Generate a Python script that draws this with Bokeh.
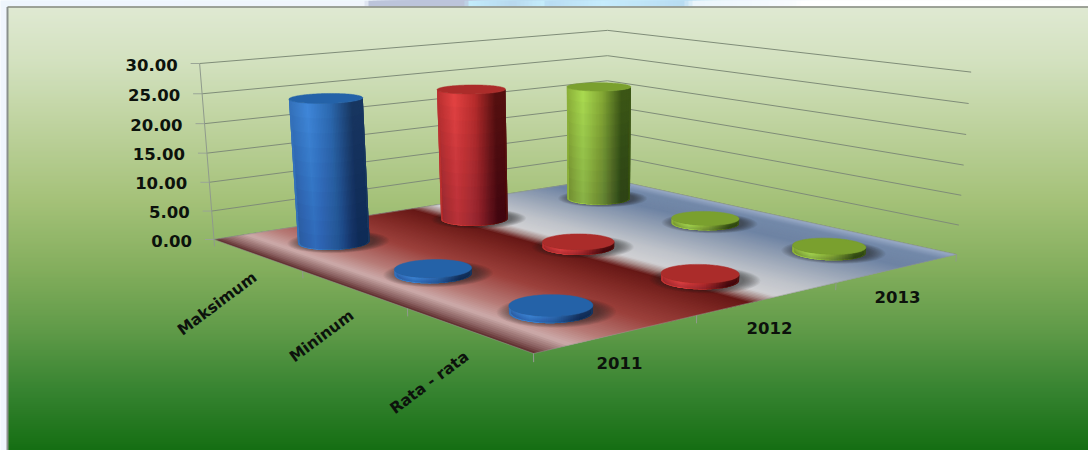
import numpy as np
from bokeh.plotting import figure
from bokeh.core.properties import value
from bokeh.embed import file_html
from bokeh.resources import INLINE

# Chart data
years = ["2011", "2012", "2013"]
measures = ["Maksimum", "Mininum", "Rata - rata"]
maksimum = [24.5, 23.5, 21.5]
mininum = [0.9, 0.9, 0.9]
rata_rata = [1.0, 1.0, 1.0]
value_ticks = [0, 5, 10, 15, 20, 25, 30]
value_labels = ["0.00", "5.00", "10.00", "15.00", "20.00", "25.00", "30.00"]

# Series palette: (top face, rim left, rim highlight, rim middle, rim right)
series_colors = {
    "2011": ("#2462a8", "#3470b8", "#3f86d8", "#2c69b0", "#183660"),
    "2012": ("#ab2c2a", "#b83030", "#e24242", "#b62c2c", "#541010"),
    "2013": ("#7aa02e", "#8aae38", "#a9da50", "#84a835", "#3c5616"),
}

FONT = "DejaVu Sans"
TEXT = "#0c120c"
GRID = "#7f8c78"


def hex_rgb(c):
    return np.array([int(c[i:i + 2], 16) for i in (1, 3, 5)], dtype=float)


def ramp(t, stops):
    """Colour at t along a list of (position, hex) stops."""
    pos = [s[0] for s in stops]
    rgb = np.array([hex_rgb(s[1]) for s in stops])
    out = [np.interp(t, pos, rgb[:, i]) for i in range(3)]
    return "#%02x%02x%02x" % tuple(int(round(v)) for v in out)


# --- 3D camera: u runs across measures, v across years, z is the value ---
floor_src = np.array([[0, 0], [1, 0], [1, 1], [0, 1]], dtype=float)
floor_dst = np.array([[213.5, 239], [533, 353], [956, 254], [606.5, 178]], dtype=float)
rows, rhs = [], []
for (a, b), (x, y) in zip(floor_src, floor_dst):
    rows.append([a, b, 1, 0, 0, 0, -x * a, -x * b])
    rhs.append(x)
    rows.append([0, 0, 0, a, b, 1, -y * a, -y * b])
    rhs.append(y)
h = np.linalg.solve(np.array(rows), np.array(rhs))
H = np.array([[h[0], h[1], h[2]], [h[3], h[4], h[5]], [h[6], h[7], 1.0]])

wall_points = [((0, 0), (199.5, 63.3)), ((0, 1), (606.5, 29.3)), ((1, 1), (971, 72))]
rows, rhs = [], []
for (a, b), (x, y) in wall_points:
    n = H @ np.array([a, b, 1.0])
    rows.append([30, 0, -x * 30])
    rhs.append(x * n[2] - n[0])
    rows.append([0, 30, -y * 30])
    rhs.append(y * n[2] - n[1])
zcol = np.linalg.lstsq(np.array(rows), np.array(rhs), rcond=None)[0]


def project(u, v, z=0.0):
    u, v, z = np.asarray(u, float), np.asarray(v, float), np.asarray(z, float)
    n0 = H[0, 0] * u + H[0, 1] * v + H[0, 2] + zcol[0] * z
    n1 = H[1, 0] * u + H[1, 1] * v + H[1, 2] + zcol[1] * z
    d = H[2, 0] * u + H[2, 1] * v + H[2, 2] + zcol[2] * z
    return n0 / d, n1 / d


p = figure(width=1088, height=450, x_range=(0, 1088), y_range=(450, 0),
           output_backend="svg", toolbar_location=None, min_border=0,
           x_axis_type=None, y_axis_type=None)
p.grid.visible = False
p.outline_line_color = None
p.background_fill_color = "#f0f5fd"
p.border_fill_color = "#f0f5fd"

# --- page strip above the panel ---
strip_x = np.arange(0, 1088, 4)
strip_stops = [(0, "#eef5fd"), (362, "#f0f5fc"), (368, "#bcc4da"), (462, "#bcc4da"),
               (468, "#c2ecfb"), (510, "#b8d8ee"), (540, "#c4ecfb"), (545, "#b8dcf2"),
               (600, "#c6ecfc"), (680, "#b8dcf2"), (692, "#eaf5fc"), (790, "#f8fbfe"),
               (800, "#ffffff"), (1088, "#ffffff")]
strip_c = [ramp(x, strip_stops) for x in strip_x]
p.quad(left=strip_x, right=1088, top=0, bottom=7, fill_color=strip_c, line_color=None)

# --- panel gradient: each band runs to the bottom so later ones paint over without seams ---
panel_y = np.arange(6, 450, 2)
panel_stops = [(6, "#dfe9d2"), (60, "#d3e1bf"), (130, "#bcd19b"), (200, "#a4c178"),
               (270, "#82ad5c"), (330, "#5f9a48"), (390, "#368330"), (450, "#146e12")]
panel_c = [ramp(y, panel_stops) for y in panel_y]
p.quad(left=8, right=1088, top=panel_y, bottom=450, fill_color=panel_c, line_color=None)
p.segment(x0=[7], y0=[6.5], x1=[7], y1=[450], line_color="#8a908c", line_width=2)
p.segment(x0=[7], y0=[6.5], x1=[1088], y1=[6.5], line_color="#85897f", line_width=1.5)

# --- wall gridlines ---
for z in value_ticks:
    xs, ys = project([0, 0, 1], [0, 1, 1], [z, z, z])
    p.line(xs, ys, line_color=GRID, line_width=1)
    x0, y0 = project(0, 0, z)
    p.segment(x0=[x0 - 9], y0=[y0], x1=[x0], y1=[y0], line_color="#9aa596", line_width=1)

ax_x, ax_y = project([0, 0], [0, 0], [0, 30])
p.line(ax_x, ax_y, line_color="#8f9a8c", line_width=1)

# --- floor: bands run along the measure axis and overlap the next few behind them ---
floor_stops = [(0.0, "#5c2c2c"), (0.025, "#8a6060"), (0.07, "#ccabaa"), (0.13, "#b77c78"),
               (0.25, "#9c413c"), (0.38, "#7c2622"), (0.455, "#661816"), (0.49, "#a88e8c"),
               (0.52, "#d0d0d3"), (0.60, "#bfc3ca"), (0.72, "#98a4b6"), (0.85, "#6e83a3"),
               (0.95, "#7389a9"), (1.0, "#9aabc8")]
n_bands = 140
fx, fy, fc = [], [], []
for i in range(n_bands):
    v0 = i / n_bands
    v1 = min(1.0, (i + 3) / n_bands)
    xs, ys = project([0, 1, 1, 0], [v0, v0, v1, v1])
    fx.append(list(xs))
    fy.append(list(ys))
    fc.append(ramp(v0 + 0.5 / n_bands, floor_stops))
p.patches(fx, fy, fill_color=fc, line_color=None)
ex, ey = project([0, 1, 1, 0], [0, 0, 1, 1])
p.line(list(ex) + [ex[0]], list(ey) + [ey[0]], line_color="#8f9a8c", line_width=0.8, line_alpha=0.7)

# --- axis ticks on the floor edges ---
for t in [0, 1 / 3, 2 / 3, 1]:
    xs, ys = project([t, t], [0, 0], [0, -1.2])
    p.line(xs, ys, line_color="#8f9a8c", line_width=1)
    xs, ys = project([1, 1], [t, t], [0, -1.2])
    p.line(xs, ys, line_color="#8f9a8c", line_width=1)

# --- cylinders, drawn back to front ---
RU, RV = 0.068, 0.068
theta = np.linspace(0, 2 * np.pi, 145)
shadow_scales = np.linspace(1.42, 1.0, 14)
fade_steps = np.linspace(0.9, 0.1, 9)


def cylinder(iu, iv, val, colors):
    u0, v0 = (iu + 0.5) / 3, (iv + 0.5) / 3
    top, c_left, c_high, c_mid, c_right = colors
    cu, cv = u0 + RU * np.cos(theta), v0 + RV * np.sin(theta)

    # soft shadow on the floor, built from thin overlapping ellipses
    for scale in shadow_scales:
        sx, sy = project(u0 + 0.004 + RU * scale * np.cos(theta), v0 + 0.008 + RV * scale * np.sin(theta))
        p.patch(sx, sy, fill_color="#1c1c28", fill_alpha=0.055, line_color=None)

    bx, by = project(cu, cv, 0 * theta)
    tx, ty = project(cu, cv, val + 0 * theta)
    left, right = bx.min(), bx.max()
    stops = [(0.0, c_left), (0.25, c_high), (0.55, c_mid), (0.85, c_right), (1.0, c_right)]

    # the front half of the rim, ordered left to right
    n = len(theta) - 1
    i_left, i_right = int(np.argmin(bx[:n])), int(np.argmax(bx[:n]))
    idx = np.arange(i_left, i_left + n) % n
    idx = idx[: int((i_right - i_left) % n) + 1]
    if by[idx].mean() < by[:n].mean():
        idx = np.arange(i_right, i_right + n) % n
        idx = idx[: int((i_left - i_right) % n) + 1]
    if bx[idx[0]] > bx[idx[-1]]:
        idx = idx[::-1]

    # each slice overlaps the next few, so no seam opens between neighbours
    xs, ys, cs = [], [], []
    for k in range(len(idx) - 1):
        tail = idx[k:k + 4]
        xs.append(list(bx[tail]) + list(tx[tail][::-1]))
        ys.append(list(by[tail]) + list(ty[tail][::-1]))
        cs.append(ramp(((bx[idx[k]] + bx[idx[k + 1]]) / 2 - left) / (right - left), stops))
    p.patches(xs, ys, fill_color=cs, line_color=None)

    # the side darkens a little toward the floor; the veil stays just inside the outline
    iu_, iv_ = u0 + 0.95 * RU * np.cos(theta), v0 + 0.95 * RV * np.sin(theta)
    ibx, iby = project(iu_, iv_, 0 * theta)
    for frac in fade_steps:
        fx_, fy_ = project(iu_, iv_, val * frac + 0 * theta)
        p.patch(list(ibx[idx]) + list(fx_[idx][::-1]), list(iby[idx]) + list(fy_[idx][::-1]),
                fill_color="#0c1420", fill_alpha=0.018, line_color=None)

    p.patch(tx, ty, fill_color=top, line_color=top, line_width=0.5)


table = [maksimum, mininum, rata_rata]
order = sorted(((iu, iv) for iu in range(3) for iv in range(3)),
               key=lambda k: float(project((k[0] + 0.5) / 3, (k[1] + 0.5) / 3)[1]))
for iu, iv in order:
    cylinder(iu, iv, table[iu][iv], series_colors[years[iv]])

# --- tick labels ---
for z, lab in zip(value_ticks, value_labels):
    x0, y0 = project(0, 0, z)
    p.text([x0 - 22], [y0 + 1], text=[lab], text_font=value(FONT), text_font_style="bold",
           text_font_size="16.5px", text_color=TEXT, text_align="right", text_baseline="middle")

measure_pos = [(249, 268), (346, 306), (461, 347)]
for lab, (x, y) in zip(measures, measure_pos):
    p.text([x], [y], text=[lab], text_font=value(FONT), text_font_style="bold", angle=0.64,
           text_font_size="15.5px", text_color=TEXT, text_align="right", text_baseline="top")

year_pos = [(619, 362), (769, 327), (897, 296)]
for lab, (x, y) in zip(years, year_pos):
    p.text([x], [y], text=[lab], text_font=value(FONT), text_font_style="bold",
           text_font_size="16.5px", text_color=TEXT, text_align="center", text_baseline="middle")

open("out.html", "w").write(file_html(p, INLINE))
